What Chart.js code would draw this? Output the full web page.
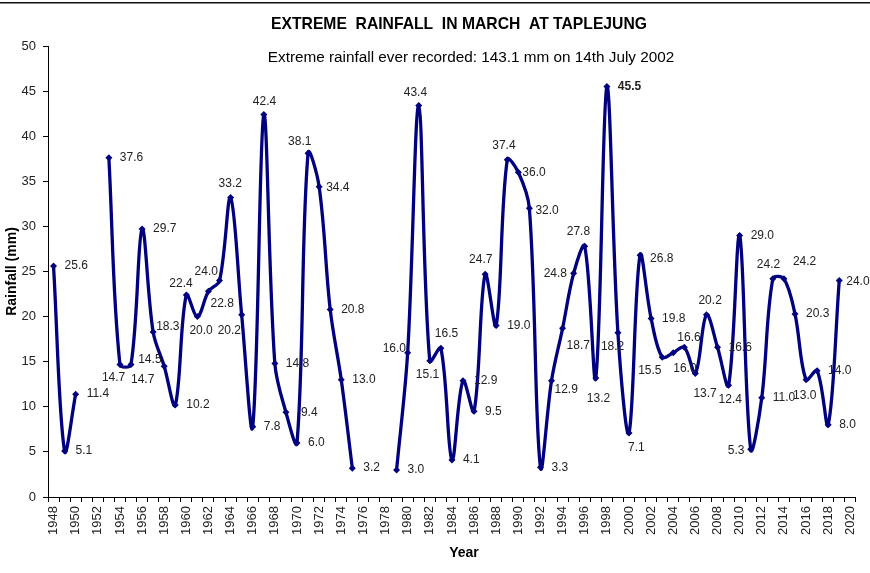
<!DOCTYPE html>
<html>
<head>
<meta charset="utf-8">
<script src="https://cdn.jsdelivr.net/npm/chart.js@4/dist/chart.umd.min.js"></script>
<style>
  html, body { margin: 0; padding: 0; background: #fff; }
  #wrap { width: 870px; height: 573px; position: relative; }
</style>
</head>
<body>
<div id="wrap"><canvas id="rainChart"></canvas></div>
<script>
const years = []
for (let y = 1948; y <= 2020; y++) years.push(String(y))

// March extreme rainfall (mm), null = no record
const rainfall = [
    25.6, 5.1, 11.4, null, null, 37.6, 14.7, 14.7, 29.7, 18.3,
    14.5, 10.2, 22.4, 20.0, 22.8, 24.0, 33.2, 20.2, 7.8, 42.4,
    14.8, 9.4, 6.0, 38.1, 34.4, 20.8, 13.0, 3.2, null, null,
    null, 3.0, 16.0, 43.4, 15.1, 16.5, 4.1, 12.9, 9.5, 24.7,
    19.0, 37.4, 36.0, 32.0, 3.3, 12.9, 18.7, 24.8, 27.8, 13.2,
    45.5, 18.2, 7.1, 26.8, 19.8, 15.5, 16.0, 16.6, 13.7, 20.2,
    16.6, 12.4, 29.0, 5.3, 11.0, 24.2, 24.2, 20.3, 13.0, 14.0,
    8.0, 24.0, null
]

const yTicks = [0, 5, 10, 15, 20, 25, 30, 35, 40, 45, 50]

// where each value label sits next to its point (left edge dx, middle dy); default right side
const labelShift = {
    1954: [-18, 13], 1955: [0, 15], 1957: [3, -5], 1958: [-26, -7], 1960: [-17, -11],
    1961: [-8, 14], 1962: [2, 12], 1963: [-25, -9], 1964: [-12, -14], 1965: [-24, 16],
    1967: [-11, -13], 1969: [15, 0], 1971: [-20, -12], 1972: [7, 1], 1980: [-25, -4],
    1981: [-15, -13], 1982: [-14, 14], 1983: [-6, -14], 1987: [-16, -15], 1989: [-15, -14],
    1990: [4, 0], 1991: [6, 2], 1993: [3, 9], 1994: [4, 17], 1995: [-30, 0],
    1996: [-18, -15], 1997: [-9, 21], 1999: [-17, 14], 2000: [-1, 15], 2001: [10, 3],
    2003: [-24, 13], 2004: [0, 16], 2005: [-7, -10], 2006: [-2, 20], 2007: [-8, -14],
    2009: [-10, 15], 2011: [-23, 1], 2013: [-16, -14], 2014: [9, -17], 2016: [-13, 16],
    2019: [7, 1]
}

const FONT = '"Liberation Sans", Arial, sans-serif'
const NAVY = '#000080'

const textPlugin = {
    id: 'textPlugin',
    afterDatasetsDraw(chart) {
        const ctx = chart.ctx
        const meta = chart.getDatasetMeta(0)
        const maxVal = Math.max(...rainfall.filter(v => v !== null))
        ctx.save()
        ctx.textAlign = 'left'
        ctx.textBaseline = 'middle'
        ctx.fillStyle = '#222'
        meta.data.forEach((pt, i) => {
            const v = rainfall[i]
            if (v === null) return
            const sh = labelShift[years[i]] || [11, 0]
            ctx.font = (v === maxVal ? 'bold ' : '') + '12px ' + FONT
            ctx.fillText(v.toFixed(1), pt.x + sh[0], pt.y + sh[1])
        })
        ctx.restore()
    },
    afterDraw(chart) {
        const ctx = chart.ctx
        ctx.save()
        ctx.fillStyle = '#111'
        ctx.fillRect(0, 2, 870, 1.5)
        ctx.textAlign = 'center'
        ctx.textBaseline = 'middle'
        ctx.fillStyle = '#000'
        ctx.font = 'bold 15.7px ' + FONT
        ctx.fillText('EXTREME  RAINFALL  IN MARCH  AT TAPLEJUNG', 459, 25)
        ctx.font = '15.3px ' + FONT
        ctx.fillText('Extreme rainfall ever recorded: 143.1 mm on 14th July 2002', 471, 58)
        ctx.font = 'bold 14px ' + FONT
        ctx.fillText('Year', 464, 553)
        ctx.restore()
    }
}

const data = {
    labels: years,
    datasets: [{
        data: rainfall,
        borderColor: NAVY,
        backgroundColor: NAVY,
        borderWidth: 3.3,
        tension: 0.35,
        spanGaps: false,
        pointStyle: 'rectRot',
        pointRadius: 3.5,
        pointBorderWidth: 0,
        pointBackgroundColor: NAVY
    }]
}

const options = {
    responsive: false,
    animation: false,
    layout: { padding: { top: 46, right: 13, left: 0, bottom: 0 } },
    plugins: {
        legend: { display: false },
        tooltip: { enabled: false }
    },
    scales: {
        x: {
            offset: true,
            grid: { offset: true, drawOnChartArea: false, color: '#000', tickLength: 5, tickColor: '#000' },
            border: { color: '#000', width: 1 },
            ticks: {
                autoSkip: false,
                minRotation: 90,
                maxRotation: 90,
                padding: 4,
                color: '#222',
                font: { family: FONT, size: 13 },
                callback: (val, i) => (Number(years[i]) % 2 === 0 ? years[i] : '')
            },
            afterFit: s => { s.height = 76 }
        },
        y: {
            min: 0,
            max: 50,
            afterBuildTicks: s => { s.ticks = yTicks.map(v => ({ value: v })) },
            grid: { drawOnChartArea: false, color: '#000', tickLength: 5, tickColor: '#000' },
            border: { color: '#000', width: 1 },
            ticks: { padding: 7, color: '#222', font: { family: FONT, size: 13 } },
            title: {
                display: true,
                text: 'Rainfall (mm)',
                color: '#000',
                font: { family: FONT, size: 14, weight: 'bold' },
                padding: { top: 4, bottom: 0 }
            },
            afterFit: s => { s.width = 48 }
        }
    }
}

const canvas = document.getElementById('rainChart')
canvas.width = 870
canvas.height = 573
new Chart(canvas, { type: 'line', data, options, plugins: [textPlugin] })
</script>
</body>
</html>
